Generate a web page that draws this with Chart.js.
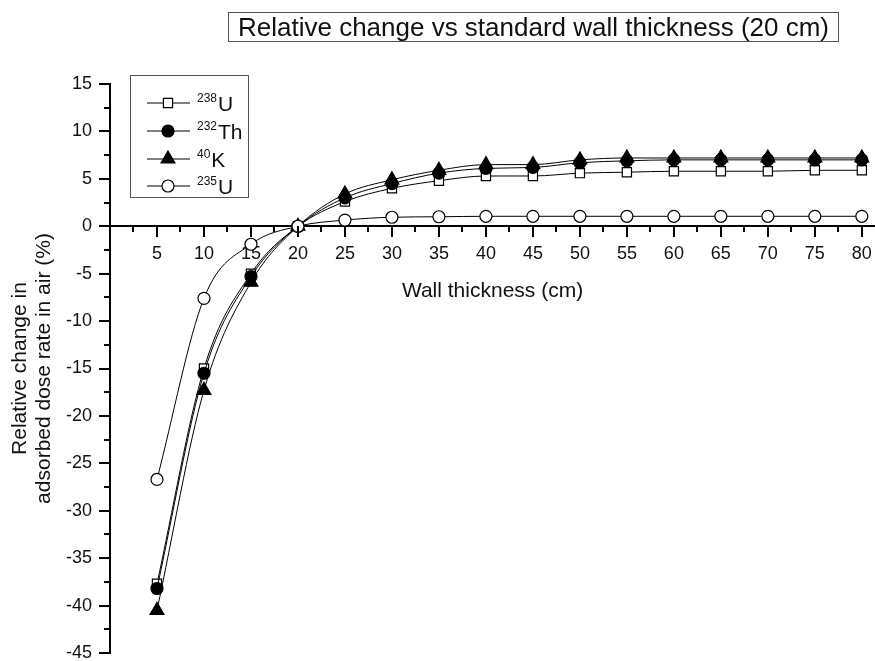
<!DOCTYPE html>
<html>
<head>
<meta charset="utf-8">
<script src="https://cdn.jsdelivr.net/npm/chart.js@4.4.1/dist/chart.umd.min.js"></script>
<style>
  body { margin: 0; background: #fff; }
  #wrap { position: relative; width: 875px; height: 661px; }
  #title {
    position: absolute; left: 228px; top: 12px; width: 611px; height: 30px;
    box-sizing: border-box; border: 1px solid #555;
    font: 26px "Liberation Sans", Arial, sans-serif; line-height: 28px;
    text-align: center; color: #111; white-space: nowrap;
  }
</style>
</head>
<body>
<div id="wrap">
  <canvas id="chart" width="875" height="661"></canvas>
  <div id="title">Relative change vs standard wall thickness (20 cm)</div>
</div>
<script>
// wall thickness (cm)
const thickness = [5, 10, 15, 20, 25, 30, 35, 40, 45, 50, 55, 60, 65, 70, 75, 80];

// relative change in adsorbed dose rate (%)
const u238 = [-37.7, -15.0, -5.0, 0, 2.6, 4.0, 4.8, 5.3, 5.3, 5.6, 5.7, 5.8, 5.8, 5.8, 5.9, 5.9];
const th232 = [-38.2, -15.5, -5.3, 0, 3.0, 4.5, 5.6, 6.1, 6.2, 6.7, 6.9, 7.0, 7.0, 7.0, 7.0, 7.0];
const k40 = [-40.5, -17.3, -5.9, 0, 3.4, 4.9, 5.9, 6.5, 6.5, 7.0, 7.2, 7.2, 7.2, 7.2, 7.2, 7.2];
const u235 = [-26.7, -7.6, -1.9, 0, 0.65, 0.95, 1.0, 1.05, 1.05, 1.05, 1.05, 1.05, 1.05, 1.05, 1.05, 1.05];

// legend labels: mass number + element
const massNumbers = ['238', '232', '40', '235'];
const elements = ['U', 'Th', 'K', 'U'];

const FONT = '"Liberation Sans", Arial, sans-serif';

function series(values) {
    return thickness.map((x, i) => ({x: x, y: values[i]}));
}

function makeDataset(i, values, style, radius, fill, order) {
    return {
        label: massNumbers[i] + elements[i],
        data: series(values),
        borderColor: '#000',
        borderWidth: 1,
        cubicInterpolationMode: 'monotone',
        pointStyle: style,
        pointRadius: radius,
        pointBorderWidth: 1.2,
        pointBorderColor: '#000',
        pointBackgroundColor: fill,
        clip: false,
        order: order,
    };
}

// major / minor tick marks like Origin
const tickMarks = {
    id: 'tickMarks',
    afterDraw(chart) {
        const {ctx, scales: {x, y}} = chart;
        const y0 = Math.round(y.getPixelForValue(0));
        const left = chart.chartArea.left;
        ctx.save();
        ctx.strokeStyle = '#000';
        ctx.lineWidth = 2;
        for (let v = 2.5; v <= 80; v += 2.5) {
            const px = Math.round(x.getPixelForValue(v));
            const len = v % 5 === 0 ? 11 : 6;
            ctx.beginPath();
            ctx.moveTo(px, y0);
            ctx.lineTo(px, y0 + len);
            ctx.stroke();
        }
        for (let v = -45; v <= 15; v += 2.5) {
            const py = Math.round(y.getPixelForValue(v));
            const len = v % 5 === 0 ? 11 : 6;
            ctx.beginPath();
            ctx.moveTo(left, py);
            ctx.lineTo(left - len, py);
            ctx.stroke();
        }
        ctx.restore();
    }
};

// boxed legend with superscript mass numbers
const isoLegend = {
    id: 'isoLegend',
    afterDraw(chart) {
        const ctx = chart.ctx;
        const bx = 130, by = 75, bw = 118, bh = 122;
        ctx.save();
        ctx.strokeStyle = '#555';
        ctx.lineWidth = 1;
        ctx.strokeRect(bx + 0.5, by + 0.5, bw, bh);
        const rows = [103, 131, 159, 186];
        chart.data.datasets.forEach((ds, i) => {
            const yy = rows[i];
            ctx.strokeStyle = '#000';
            ctx.lineWidth = 1;
            ctx.beginPath();
            ctx.moveTo(147, yy);
            ctx.lineTo(190, yy);
            ctx.stroke();
            ctx.fillStyle = ds.pointBackgroundColor;
            ctx.strokeStyle = '#000';
            ctx.lineWidth = ds.pointBorderWidth;
            Chart.helpers.drawPoint(ctx, {
                pointStyle: ds.pointStyle, radius: ds.pointRadius, rotation: 0,
                borderWidth: ds.pointBorderWidth
            }, 168, yy);
            ctx.fillStyle = '#111';
            ctx.textBaseline = 'alphabetic';
            ctx.textAlign = 'left';
            ctx.font = '12px ' + FONT;
            ctx.fillText(massNumbers[i], 197, yy - 1);
            const w = ctx.measureText(massNumbers[i]).width;
            ctx.font = '21px ' + FONT;
            ctx.fillText(elements[i], 197 + w + 1, yy + 8);
        });
        ctx.restore();
    }
};

const ctx = document.getElementById('chart').getContext('2d');

new Chart(ctx, {
    type: 'line',
    data: {
        datasets: [
            makeDataset(0, u238, 'rect', 6.5, '#fff', 3),
            makeDataset(1, th232, 'circle', 6, '#000', 2),
            makeDataset(2, k40, 'triangle', 8, '#000', 1),
            makeDataset(3, u235, 'circle', 6, '#fff', 0),
        ],
    },
    options: {
        responsive: false,
        animation: false,
        layout: {autoPadding: false, padding: {top: 84, bottom: 8, left: 0, right: 0}},
        plugins: {
            legend: {display: false},
            tooltip: {enabled: false},
        },
        scales: {
            x: {
                type: 'linear',
                position: {y: 0},
                min: 0,
                max: 81.4,
                grid: {display: false},
                border: {display: true, color: '#000', width: 2},
                ticks: {
                    stepSize: 5,
                    includeBounds: false,
                    autoSkip: false,
                    maxRotation: 0,
                    padding: 9,
                    color: '#111',
                    font: {family: FONT, size: 18},
                    callback: (v) => (v > 0 && v % 5 === 0 ? String(v) : ''),
                },
                title: {
                    display: true,
                    text: 'Wall thickness (cm)',
                    color: '#111',
                    font: {family: FONT, size: 21},
                    padding: {top: 5, bottom: 0},
                },
                afterFit(scale) {
                    scale.paddingLeft = 0;
                    scale.paddingRight = 0;
                },
            },
            y: {
                type: 'linear',
                min: -45,
                max: 15,
                grid: {display: false},
                border: {display: true, color: '#000', width: 2},
                ticks: {
                    stepSize: 5,
                    padding: 10,
                    color: '#111',
                    font: {family: FONT, size: 18},
                },
                title: {
                    display: true,
                    text: ['Relative change in', 'adsorbed dose rate in air (%)'],
                    color: '#111',
                    font: {family: FONT, size: 21, lineHeight: 1.15},
                    padding: {top: 8, bottom: 0},
                },
                afterFit(scale) {
                    scale.width = 110;
                    scale.paddingTop = 0;
                    scale.paddingBottom = 0;
                },
            },
        },
    },
    plugins: [tickMarks, isoLegend],
});
</script>
</body>
</html>
